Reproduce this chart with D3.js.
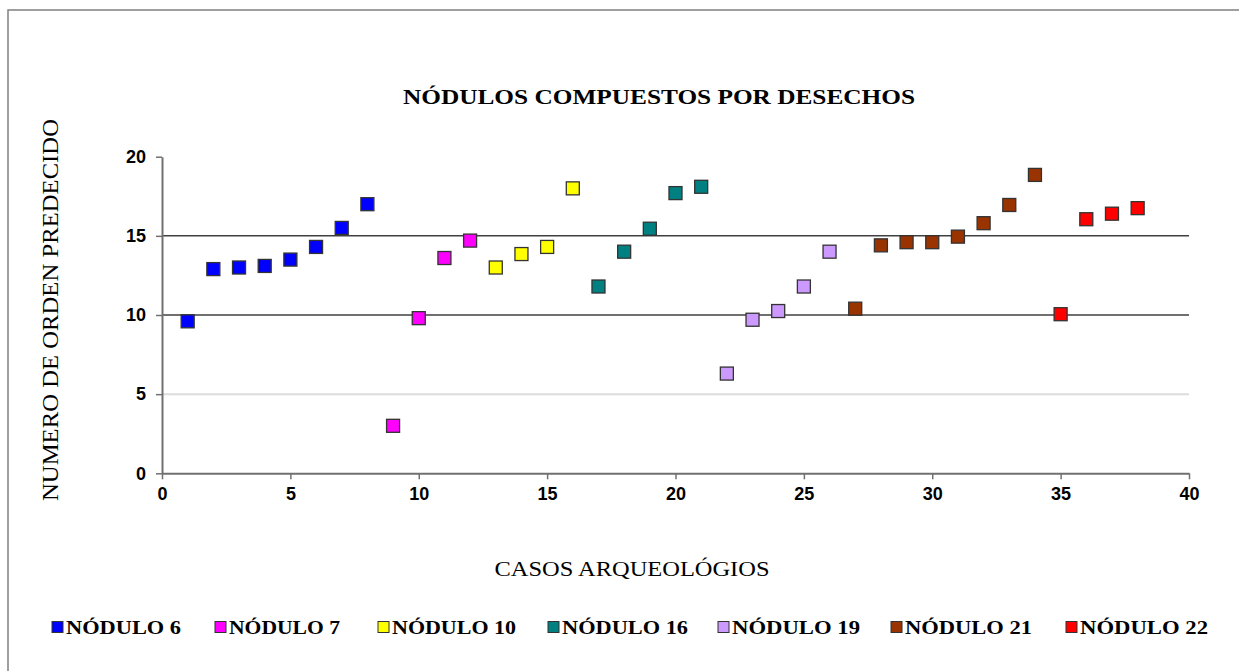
<!DOCTYPE html>
<html><head><meta charset="utf-8">
<script src="https://cdn.jsdelivr.net/npm/d3@7"></script>
<style>html,body{margin:0;padding:0;background:#fff;}svg{display:block;}</style>
</head><body>
<script>
const seriesNames = ["NÓDULO 6","NÓDULO 7","NÓDULO 10","NÓDULO 16","NÓDULO 19","NÓDULO 21","NÓDULO 22"];
const seriesColors = ["#0000FF","#FF00FF","#FFFF00","#008080","#CC99FF","#993300","#FF0000"];
const casesN6 = [1,2,3,4,5,6,7,8];
const valuesN6 = [9.6,12.9,13.0,13.1,13.5,14.3,15.5,17.0];
const casesN7 = [9,10,11,12];
const valuesN7 = [3.0,9.8,13.6,14.7];
const casesN10 = [13,14,15,16];
const valuesN10 = [13.0,13.85,14.3,18.0];
const casesN16 = [17,18,19,20,21];
const valuesN16 = [11.8,14.0,15.45,17.7,18.1];
const casesN19 = [22,23,24,25,26];
const valuesN19 = [6.3,9.7,10.25,11.8,14.0];
const casesN21 = [27,28,29,30,31,32,33,34];
const valuesN21 = [10.4,14.4,14.6,14.6,14.95,15.8,16.95,18.85];
const casesN22 = [35,36,37,38];
const valuesN22 = [10.05,16.05,16.4,16.75];
const xTicks = [0,5,10,15,20,25,30,35,40];
const yTicks = [0,5,10,15,20];

const title = "NÓDULOS COMPUESTOS POR DESECHOS";
const xTitle = "CASOS ARQUEOLÓGIOS";
const yTitle = "NUMERO DE ORDEN PREDECIDO";

const allCases = [casesN6,casesN7,casesN10,casesN16,casesN19,casesN21,casesN22];
const allValues = [valuesN6,valuesN7,valuesN10,valuesN16,valuesN19,valuesN21,valuesN22];
const series = seriesNames.map((n,i)=>({name:n,color:seriesColors[i],
  pts: allCases[i].map((c,j)=>({x:c,y:allValues[i][j]}))}));

const W=1239,H=671;
const svg=d3.select("body").append("svg").attr("width",W).attr("height",H);
svg.append("rect").attr("x",8).attr("y",10).attr("width",1260).attr("height",700)
  .attr("fill","#fff").attr("stroke","#808080").attr("stroke-width",1.5);

const x=d3.scaleLinear().domain([0,40]).range([162,1189]);
const y=d3.scaleLinear().domain([0,20]).range([473.3,156.7]);

// gridlines
const gridStyle = {5:{c:"#dcdcdc",w:2},10:{c:"#404040",w:1.5},15:{c:"#404040",w:1.5}};
svg.append("g").selectAll("line").data(yTicks.filter(d=>gridStyle[d])).join("line")
  .attr("x1",x(0)).attr("x2",x(40)).attr("y1",d=>y(d)).attr("y2",d=>y(d))
  .attr("stroke",d=>gridStyle[d].c).attr("stroke-width",d=>gridStyle[d].w);

// axes
const xAxis=svg.append("g").attr("transform",`translate(0,${y(0)})`)
  .call(d3.axisBottom(x).tickValues(xTicks).tickSize(6).tickSizeOuter(0).tickPadding(8));
const yAxis=svg.append("g").attr("transform",`translate(${x(0)},0)`)
  .call(d3.axisLeft(y).tickValues(yTicks).tickSize(6).tickSizeOuter(0).tickPadding(10));
[xAxis,yAxis].forEach(a=>{
  a.select(".domain").attr("stroke","#707070").attr("stroke-width",2);
  a.selectAll(".tick line").attr("stroke","#707070").attr("stroke-width",1.5);
  a.selectAll("text").attr("font-family","'Liberation Sans',Arial,sans-serif")
   .attr("font-weight","bold").attr("font-size",18).attr("fill","#000");
});
xAxis.selectAll("text").attr("dy","0.71em");

// points
const sz=13;
svg.append("g").selectAll("g").data(series).join("g")
  .attr("fill",d=>d.color)
  .selectAll("rect").data(d=>d.pts).join("rect")
  .attr("x",d=>x(d.x)-sz/2).attr("y",d=>y(d.y)-sz/2)
  .attr("width",sz).attr("height",sz)
  .attr("stroke","#333").attr("stroke-width",1.3);

// titles
const serif="'Liberation Serif','Times New Roman',serif";
svg.append("text").attr("x",659).attr("y",104).attr("text-anchor","middle")
  .attr("font-family",serif).attr("font-weight","bold").attr("font-size",22)
  .attr("textLength",512).attr("lengthAdjust","spacingAndGlyphs").text(title);
svg.append("text").attr("x",632).attr("y",576).attr("text-anchor","middle")
  .attr("font-family",serif).attr("font-size",22)
  .attr("textLength",275).attr("lengthAdjust","spacingAndGlyphs").text(xTitle);
svg.append("text").attr("transform","translate(58,310) rotate(-90)").attr("text-anchor","middle")
  .attr("font-family",serif).attr("font-size",23)
  .attr("textLength",382).attr("lengthAdjust","spacingAndGlyphs").text(yTitle);

// legend
const legX=[52,215,378,548,718,891,1066];
const legW=[115,111,124,126,128,127,128];
const leg=svg.append("g").selectAll("g").data(series).join("g")
  .attr("transform",(d,i)=>`translate(${legX[i]},627)`);
leg.append("rect").attr("x",0).attr("y",-5.5).attr("width",11).attr("height",11)
  .attr("fill",d=>d.color).attr("stroke","#333").attr("stroke-width",1);
leg.append("text").attr("x",14).attr("y",7).attr("font-family",serif)
  .attr("font-weight","bold").attr("font-size",19)
  .attr("textLength",(d,i)=>legW[i]).attr("lengthAdjust","spacingAndGlyphs")
  .text(d=>d.name);
</script>
</body></html>
